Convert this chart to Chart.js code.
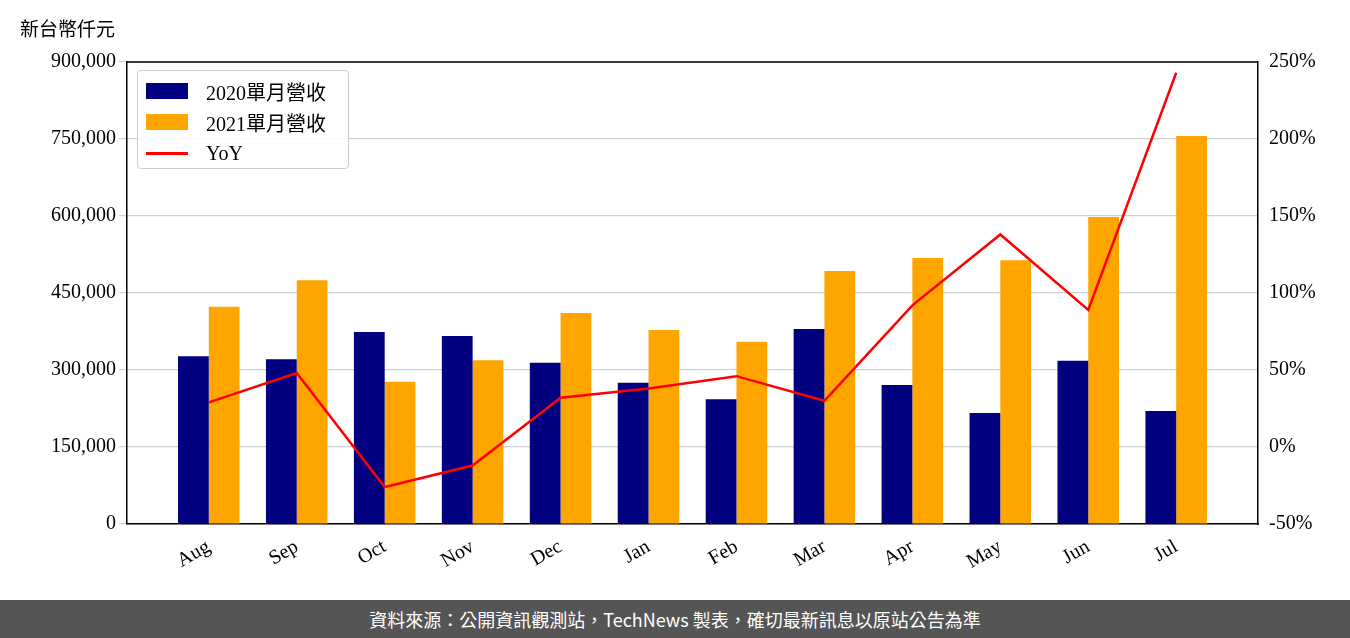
<!DOCTYPE html>
<html><head><meta charset="utf-8">
<script src="https://cdn.jsdelivr.net/npm/chart.js@4/dist/chart.umd.min.js"></script>
<style>
body{margin:0;width:1350px;height:638px;background:#fff;overflow:hidden;position:relative;font-family:"Liberation Serif",serif}
#wrap{position:absolute;left:0;top:0;width:1350px;height:600px}
#unit{position:absolute;left:20px;top:14px;font:19px "Noto Sans CJK TC";color:#000}
#foot{position:absolute;left:0;top:600px;width:1350px;height:38px;background:#555;color:#fff;font:18px "Noto Sans CJK TC";text-align:center;line-height:38px}
#legend{position:absolute;left:137px;top:70px;width:210px;height:97px;border:1px solid #ccc;border-radius:4px;background:rgba(255,255,255,0.85);font:20px "Liberation Serif","Noto Sans CJK TC";}
.it{position:absolute;left:8px;height:24px;display:flex;align-items:center}
.sw{width:42px;height:16px;margin-right:18px}
</style></head><body>
<div id="wrap"><canvas id="c" width="1350" height="600"></canvas></div>
<div id="unit">新台幣仟元</div>
<div id="legend"></div>
<div id="foot">資料來源：公開資訊觀測站，TechNews 製表，確切最新訊息以原站公告為準</div>
<script>
const categories=["Aug","Sep","Oct","Nov","Dec","Jan","Feb","Mar","Apr","May","Jun","Jul"];
const rev2020=[327000,321000,374000,366000,314000,275000,243000,380000,271000,216000,318000,220000];
const rev2021=[423000,475000,277000,319000,411000,378000,355000,493000,518000,514000,598000,756000];
const yoy=[29,48,-26,-12,32,38,46,30,92,138,89,243];
const labels=["2020單月營收","2021單月營收","YoY"];
const colors=["#000080","#FFA500","#FF0000"];
const lg=document.getElementById('legend');
labels.forEach((l,i)=>{const d=document.createElement('div');d.className='it';d.style.top=(8+i*31)+'px';
d.innerHTML='<span class="sw" style="background:'+colors[i]+(i==2?';height:3px':'')+'"></span>'+l;lg.appendChild(d);});
const font={family:"Liberation Serif",size:20};
const pts=a=>a.map((v,i)=>({x:i,y:v}));
new Chart(document.getElementById('c'),{
type:'bar',
data:{datasets:[
{type:'line',label:labels[2],data:pts(yoy),borderColor:colors[2],borderWidth:2.5,pointRadius:0,yAxisID:'y1',tension:0,order:0},
{label:labels[0],data:pts(rev2020),backgroundColor:colors[0],yAxisID:'y',barPercentage:1,categoryPercentage:0.7,order:1},
{label:labels[1],data:pts(rev2021),backgroundColor:colors[1],yAxisID:'y',barPercentage:1,categoryPercentage:0.7,order:1}]},
options:{responsive:false,animation:false,layout:{padding:{top:62,left:0,right:0,bottom:0}},
plugins:{legend:{display:false},tooltip:{enabled:false}},
scales:{
x:{type:'linear',min:-0.93,max:11.93,offset:false,grid:{display:false},border:{color:'#000',width:1.5},
 afterBuildTicks:s=>{s.ticks=categories.map((c,i)=>({value:i}));},
 ticks:{font,color:'#000',maxRotation:30,minRotation:30,autoSkip:false,callback:v=>categories[v]},afterFit:s=>{s.height=76}},
y:{position:'left',min:0,max:900000,ticks:{stepSize:150000,font,color:'#000',callback:v=>v.toLocaleString('en-US')},grid:{color:'#d0d0d0',lineWidth:1.2},border:{color:'#000',width:1.5},afterFit:s=>{s.width=127}},
y1:{position:'right',min:-50,max:250,ticks:{stepSize:50,font,color:'#000',callback:v=>v+'%'},grid:{display:false},border:{color:'#000',width:1.5},afterFit:s=>{s.width=92}}
}},
plugins:[{id:'topborder',afterDraw(ch){const a=ch.chartArea,c=ch.ctx;c.save();c.strokeStyle='#000';c.lineWidth=1.5;c.beginPath();c.moveTo(a.left,a.top);c.lineTo(a.right,a.top);c.stroke();c.restore();}}]
});
</script></body></html>
